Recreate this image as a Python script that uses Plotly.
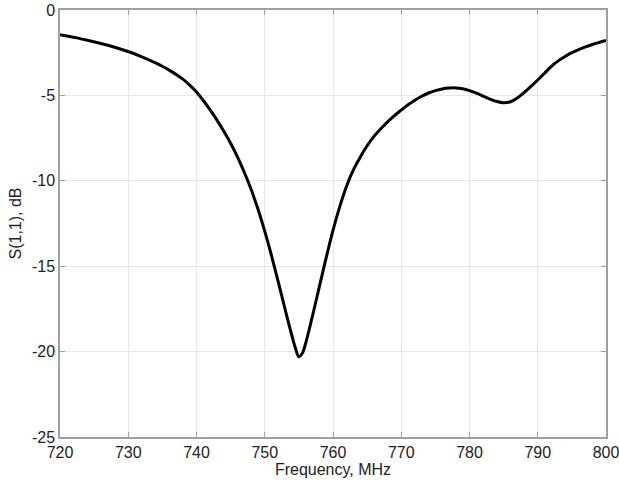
import plotly.graph_objects as go

# Measured return loss of the antenna
freq_mhz = [720, 722, 724, 726, 728, 730, 732, 734, 736, 738, 739, 740, 741, 742,
            743, 744, 745, 746, 747, 748, 749, 750, 751, 752, 753, 754, 754.5, 755,
            755.5, 756, 757, 758, 759, 760, 761, 762, 763, 764, 765, 766, 767, 768,
            769, 770, 771, 772, 773, 774, 775, 776, 777, 778, 779, 780, 781, 782,
            783, 784, 785, 786, 787, 788, 789, 790, 791, 792, 793, 794, 795, 796,
            797, 798, 799, 800]
s11_db = [-1.44, -1.6, -1.77, -1.96, -2.18, -2.43, -2.74, -3.1, -3.52, -4.05, -4.4,
          -4.8, -5.3, -5.85, -6.45, -7.1, -7.8, -8.6, -9.5, -10.5, -11.65, -12.95,
          -14.4, -15.95, -17.55, -19.1, -19.8, -20.3, -20.1, -19.5, -17.9, -16.2,
          -14.5, -12.9, -11.5, -10.3, -9.35, -8.6, -7.95, -7.4, -6.95, -6.55, -6.18,
          -5.86, -5.55, -5.28, -5.05, -4.86, -4.72, -4.62, -4.57, -4.56, -4.61,
          -4.72, -4.87, -5.04, -5.22, -5.36, -5.43, -5.37, -5.15, -4.83, -4.47,
          -4.1, -3.7, -3.3, -2.98, -2.72, -2.5, -2.32, -2.16, -2.02, -1.9, -1.79]

x_ticks = [720, 730, 740, 750, 760, 770, 780, 790, 800]
y_ticks = [0, -5, -10, -15, -20, -25]

fig = go.Figure(go.Scatter(
    x=freq_mhz, y=s11_db, mode="lines",
    line=dict(color="black", width=3, shape="spline", smoothing=1.0),
    showlegend=False,
))

font_main = dict(family="Liberation Sans, Arial", size=16, color="#222")

axis_common = dict(
    showgrid=True, gridcolor="#e6e6e6", gridwidth=1,
    showline=True, linecolor="#a0a0a0", linewidth=1.5, mirror="ticks",
    ticks="inside", ticklen=5, tickcolor="#a0a0a0", tickwidth=1,
    zeroline=False, ticklabeloverflow="allow", automargin=False,
    tickfont=font_main,
)

fig.update_xaxes(range=[720, 800], tickvals=x_ticks,
                 title=dict(text="Frequency, MHz", standoff=2, font=font_main),
                 **axis_common)
fig.update_yaxes(range=[-25, 0], tickvals=y_ticks,
                 ticktext=[str(v) for v in y_ticks],
                 title=dict(text="S(1,1), dB", standoff=6, font=font_main),
                 **axis_common)

fig.update_layout(
    width=619, height=485,
    margin=dict(l=60, r=13, t=10, b=48),
    plot_bgcolor="white", paper_bgcolor="white",
)

fig.write_html("out.html")
